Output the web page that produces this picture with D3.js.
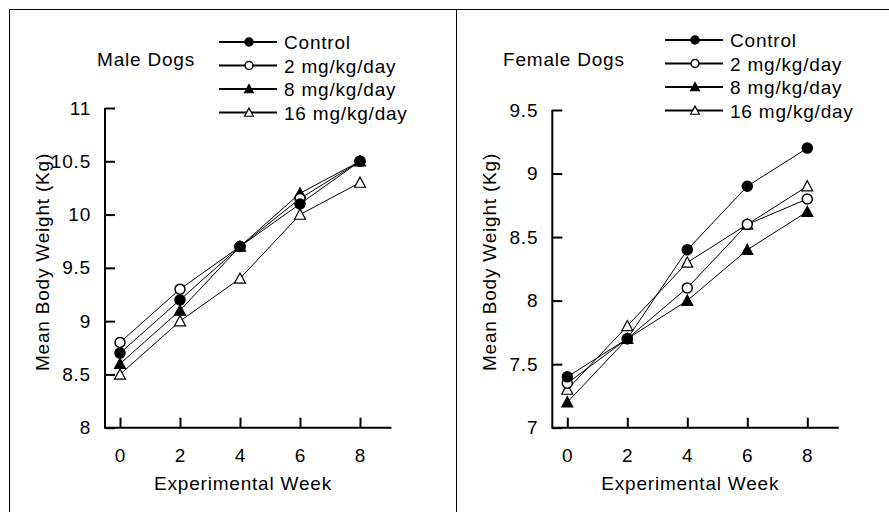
<!DOCTYPE html>
<html lang="en">
<head>
  <title>Dog body weight</title>
  <script src="https://d3js.org/d3.v7.min.js" charset="utf-8"></script>
  <style>
    body { margin: 0; background: #fff; }
    text { font-family: "Liberation Sans", Arial, sans-serif; font-size: 19px; letter-spacing: 0.8px; fill: #000; }
  </style>
</head>
<body>
  <script>

    // data
    var weeks = [0, 2, 4, 6, 8];
    var seriesNames = ["Control", "2 mg/kg/day", "8 mg/kg/day", "16 mg/kg/day"];

    var maleControl = [8.7, 9.2, 9.7, 10.1, 10.5];
    var male2 = [8.8, 9.3, 9.7, 10.15, 10.5];
    var male8 = [8.6, 9.1, 9.7, 10.2, 10.5];
    var male16 = [8.5, 9.0, 9.4, 10.0, 10.3];

    var femaleControl = [7.4, 7.7, 8.4, 8.9, 9.2];
    var female2 = [7.35, 7.7, 8.1, 8.6, 8.8];
    var female8 = [7.2, 7.7, 8.0, 8.4, 8.7];
    var female16 = [7.3, 7.8, 8.3, 8.6, 8.9];

    var maleTicks = [8, 8.5, 9, 9.5, 10, 10.5, 11];
    var femaleTicks = [7, 7.5, 8, 8.5, 9, 9.5];

    var w = 889, h = 512;

    var svg = d3.select("body").append("svg")
      .attr("width", w)
      .attr("height", h);

    // outer frame + divider
    svg.append("path")
      .attr("d", "M9.5," + h + "V9.5H" + w + "M456.5,9.5V" + h)
      .attr("fill", "none")
      .attr("stroke", "#000")
      .attr("stroke-width", 1);

    // marker styles: filled circle, open circle, filled triangle, open triangle
    var markerShape = ["circle", "circle", "tri", "tri"];
    var markerFill = ["#000", "#fff", "#000", "#fff"];

    function drawMarker(g, kind, fill, x, y, s) {
      if (kind == "circle") {
        g.append("circle")
          .attr("cx", x).attr("cy", y).attr("r", 5 * s)
          .attr("fill", fill).attr("stroke", "#000").attr("stroke-width", 1.5);
      } else {
        var a = 5.5 * s;
        g.append("path")
          .attr("d", "M" + x + "," + (y - a) + "L" + (x + a) + "," + (y + a * 0.85) + "L" + (x - a) + "," + (y + a * 0.85) + "Z")
          .attr("fill", fill).attr("stroke", "#000").attr("stroke-width", 1.2);
      }
    }

    function panel(opt) {
      var g = svg.append("g");

      var x = d3.scaleLinear().domain([0, 8]).range([opt.x0, opt.x0 + 240]);
      var y = d3.scaleLinear().domain(opt.yDomain).range([427.7, opt.yTop]);

      var axisLeftX = x(-0.5), axisRightX = x(9.05);

      // y axis, ticks pointing inward
      var ya = g.append("g")
        .attr("transform", "translate(" + axisLeftX + ",0)")
        .call(d3.axisLeft(y).tickValues(opt.ticks).tickSizeInner(-10).tickSizeOuter(0).tickPadding(14)
          .tickFormat(d3.format("")));
      ya.select(".domain").remove();
      ya.selectAll("line").attr("stroke-width", 2);
      ya.selectAll("text").attr("font-size", null).attr("font-family", null);

      // x axis
      var xa = g.append("g")
        .attr("transform", "translate(0,427.7)")
        .call(d3.axisBottom(x).tickValues(weeks).tickSizeInner(-10).tickSizeOuter(0).tickPadding(21));
      xa.select(".domain").remove();
      xa.selectAll("line").attr("stroke-width", 2);
      xa.selectAll("text").attr("font-size", null).attr("font-family", null);

      g.append("path")
        .attr("d", "M" + axisLeftX + "," + y(opt.yDomain[1]) + "V427.7H" + axisRightX)
        .attr("fill", "none")
        .attr("stroke", "#000")
        .attr("stroke-width", 2);

      // axis titles
      g.append("text")
        .attr("x", x(4.1)).attr("y", 490)
        .attr("text-anchor", "middle")
        .text("Experimental Week");

      g.append("text")
        .attr("transform", "translate(" + (opt.x0 - 71) + ",262) rotate(-90)")
        .attr("text-anchor", "middle")
        .text("Mean Body Weight (Kg)");

      // panel title
      g.append("text")
        .attr("x", opt.titleX).attr("y", 66)
        .text(opt.title);

      // series
      var line = d3.line().x(function(d, i) { return x(weeks[i]); }).y(function(d) { return y(d); });
      for (var s = opt.series.length - 1; s >= 0; s--) {
        g.append("path")
          .attr("d", line(opt.series[s]))
          .attr("fill", "none")
          .attr("stroke", "#000")
          .attr("stroke-width", 1);
      }
      for (var s = opt.series.length - 1; s >= 0; s--) {
        opt.series[s].forEach(function(v, i) {
          drawMarker(g, markerShape[s], markerFill[s], x(weeks[i]), y(v), 1);
        });
      }

      // legend
      for (var i = 0; i < seriesNames.length; i++) {
        var ly = opt.legendY + i * 23.5;
        g.append("line")
          .attr("x1", opt.legendX).attr("x2", opt.legendX + 58)
          .attr("y1", ly).attr("y2", ly)
          .attr("stroke", "#000").attr("stroke-width", 2);
        drawMarker(g, markerShape[i], markerFill[i], opt.legendX + 30, ly, 0.8);
        g.append("text")
          .attr("x", opt.legendX + 65).attr("y", ly + 7)
          .text(seriesNames[i]);
      }
    }

    panel({
      x0: 120, yDomain: [8, 11], yTop: 108, ticks: maleTicks,
      title: "Male Dogs", titleX: 97,
      legendX: 219, legendY: 42,
      series: [maleControl, male2, male8, male16]
    });

    panel({
      x0: 567.3, yDomain: [7, 9.5], yTop: 110, ticks: femaleTicks,
      title: "Female Dogs", titleX: 503,
      legendX: 665, legendY: 40,
      series: [femaleControl, female2, female8, female16]
    });

  </script>
</body>
</html>
